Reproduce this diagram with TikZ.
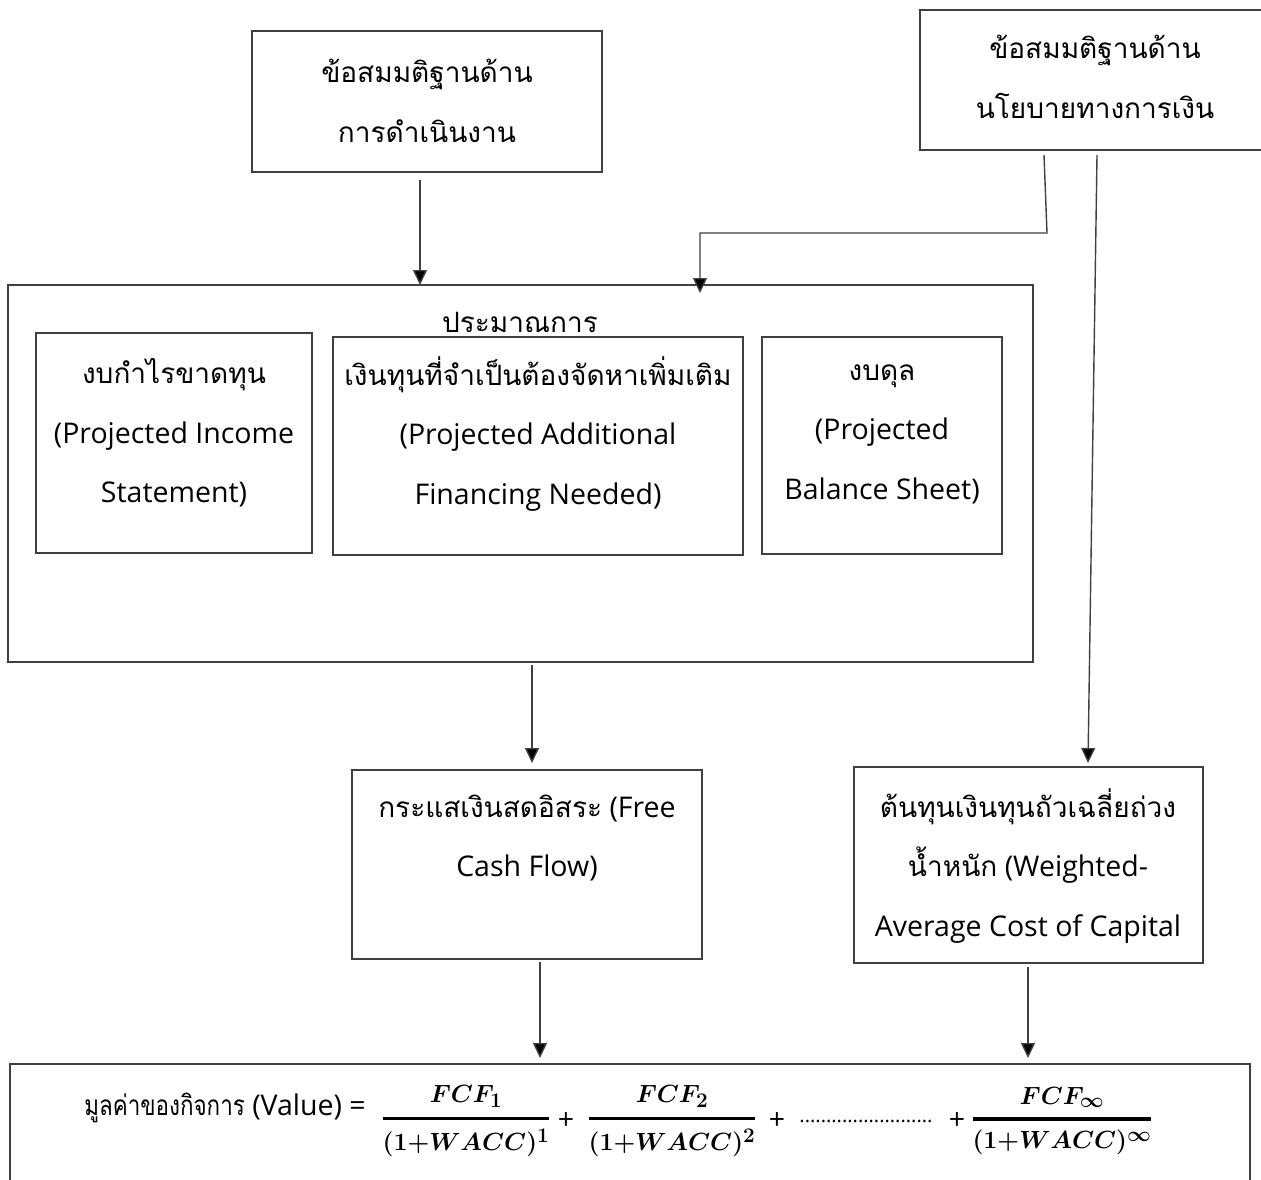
\documentclass[tikz,border=0pt]{standalone}
\usepackage{amsmath,bm}
\usepackage{fontspec}
\setmainfont{Open Sans}
\newfontfamily\thaifont[Script=Thai]{Loma}
\newfontfamily\thainarrow[Script=Thai,FakeStretch=0.8]{Loma}
\usetikzlibrary{arrows.meta,calc}
\newcommand{\T}[1]{{\thaifont\fontsize{28}{59.5}\selectfont #1}}
\newcommand{\FR}[2]{\ensuremath{\displaystyle\boldsymbol{\genfrac{}{}{3.2pt}{0}{#1}{#2}}}}
\tikzset{
  box/.style={draw=black!75, line width=1.4pt, inner sep=0pt, outer sep=0pt},
  txt/.style={align=center, inner sep=0pt, font=\fontsize{28.5}{59.5}\selectfont},
  mth/.style={inner sep=0pt, font=\fontsize{28.5}{34}\selectfont},
  arr/.style={draw=black!75, line width=1.4pt, -{Triangle[length=15pt,width=14pt,fill=black]}}
}
\begin{document}
\begin{tikzpicture}[x=1pt,y=-1pt]
\clip (0,0) rectangle (1261,1179);
\fill[white] (0,0) rectangle (1261,1179);
% boxes
\node[box, minimum width=350pt, minimum height=141pt] (A) at (427,101.5) {};
\node[box, minimum width=350pt, minimum height=140pt] (B) at (1095,80) {};
\node[box, minimum width=1025pt, minimum height=377pt] (big) at (520.5,473.5) {};
\node[box, minimum width=276pt, minimum height=220pt] (b1) at (174,443) {};
\node[box, minimum width=410pt, minimum height=218pt] (b2) at (538,446) {};
\node[box, minimum width=240pt, minimum height=217pt] (b3) at (882,445.5) {};
\node[box, minimum width=350pt, minimum height=189pt] (FCF) at (527,864.5) {};
\node[box, minimum width=349pt, minimum height=196pt] (W) at (1028.5,865) {};
\node[box, minimum width=1240pt, minimum height=136pt] (F) at (630,1132) {};
% texts
\node[txt] (tA) at (427,101) {\T{ข้อสมมติฐานด้าน}\\\T{การดำเนินงาน}};
\node[txt] (tB) at (1095,77) {\T{ข้อสมมติฐานด้าน}\\\T{นโยบายทางการเงิน}};
\node[txt] (tbig) at (520,322) {\T{ประมาณการ}};
\node[txt] (t1) at (174,433) {\T{งบกำไรขาดทุน}\\(Projected Income\\Statement)};
\node[txt] (t2) at (538,434) {\T{เงินทุนที่จำเป็นต้องจัดหาเพิ่มเติม}\\(Projected Additional\\Financing Needed)};
\node[txt] (t3) at (882,434) {\T{งบดุล}\\(Projected\\Balance Sheet)};
\node[txt] (tF) at (527,838) {\T{กระแสเงินสดอิสระ} (Free\\Cash Flow)};
\node[txt] (tW) at (1028,866) {\T{ต้นทุนเงินทุนถัวเฉลี่ยถ่วง}\\\T{น้ำหนัก} (Weighted-\\Average Cost of Capital};
% formula
\node[txt, anchor=east] (v0) at (366,1108) {{\thainarrow\fontsize{28}{34}\selectfont มูลค่าของกิจการ} (Value) =};
\node[mth] (f1) at (466,1121) {\FR{FCF_1}{(1{+}WACC)^1}};
\node[txt] (p1) at (566,1121) {+};
\node[mth] (f2) at (672,1121) {\FR{FCF_2}{(1{+}WACC)^2}};
\node[txt] (p2) at (777,1121) {+};
\node[inner sep=0pt, font=\fontsize{20}{20}\selectfont] (dots) at (866,1121) {.........................};
\node[txt] (p3) at (957,1121) {+};
\node[mth] (f3) at (1062,1121) {\FR{FCF_\infty}{(1{+}WACC)^\infty}};
% connectors
\coordinate (a1) at ($(A.south)+(-7,8)$);
\draw[arr] (a1) -- (a1 |- big.north);
\draw[arr] ($(B.south)+(-51,5)$) -- ($(B.south)+(-48,83)$) -- ($(big.north)+(179.5,-52)$) -- ($(big.north)+(179.5,8)$);
\draw[arr] ($(B.south)+(2,5)$) -- ($(W.north)+(59.5,-4)$);
\draw[arr] ($(big.south)+(11.5,3)$) -- ($(FCF.north)+(5,-7)$);
\draw[arr] ($(FCF.south)+(13,3)$) -- ($(F.north)+(-90,-6)$);
\draw[arr] ($(W.south)+(-0.5,4)$) -- ($(F.north)+(398,-6)$);
\end{tikzpicture}
\end{document}
